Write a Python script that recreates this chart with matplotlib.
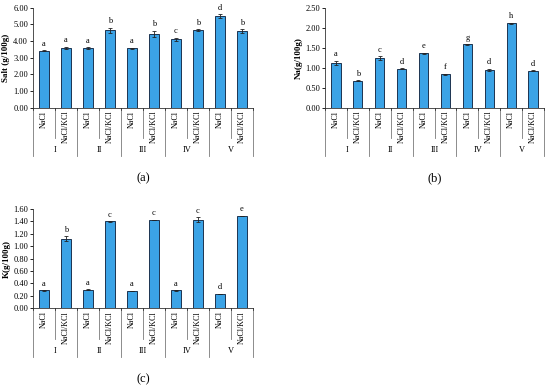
import numpy as np
from matplotlib import pyplot as plt

plt.rcParams['font.family'] = ['Liberation Serif', 'DejaVu Serif']

groups = ['I', 'II', 'III', 'IV', 'V']
treatments = ['NaCl', 'NaCl/KCl']

salt = [3.42, 3.60, 3.57, 4.65, 3.56, 4.43, 4.10, 4.66, 5.50, 4.60]
salt_err = [0.04, 0.05, 0.07, 0.15, 0.04, 0.20, 0.10, 0.05, 0.10, 0.10]
salt_letters = ['a', 'a', 'a', 'b', 'a', 'b', 'c', 'b', 'd', 'b']

na = [1.12, 0.67, 1.23, 0.97, 1.36, 0.84, 1.58, 0.95, 2.11, 0.92]
na_err = [0.05, 0.01, 0.05, 0.01, 0.01, 0.01, 0.01, 0.02, 0.01, 0.01]
na_letters = ['a', 'b', 'c', 'd', 'e', 'f', 'g', 'd', 'h', 'd']

k = [0.29, 1.12, 0.30, 1.40, 0.28, 1.42, 0.29, 1.43, 0.23, 1.49]
k_err = [0.005, 0.04, 0.005, 0.005, 0.005, 0.005, 0.005, 0.04, 0.005, 0.005]
k_letters = ['a', 'b', 'a', 'c', 'a', 'c', 'a', 'c', 'd', 'e']

W, H = 550, 389
fig = plt.figure(figsize=(5.5, 3.89), dpi=100)

bar_color = '#3ba3e6'
edge_color = '#1d3450'
line_color = '#7a7a7a'


def panel(px_left, px_right, px_zero, px_top, vals, errs, letters, ymax, step, ylabel, tag):
    ax = fig.add_axes([px_left / W, (H - px_zero) / H,
                       (px_right - px_left) / W, (px_zero - px_top) / H])
    x = np.arange(len(vals))
    ax.bar(x, vals, width=0.42, color=bar_color, edgecolor=edge_color, linewidth=0.7, zorder=2)
    ax.errorbar(x, vals, yerr=errs, fmt='none', ecolor='#222222', elinewidth=0.6,
                capsize=1.5, capthick=0.6, zorder=3)
    off = ymax * 0.025
    for xi, v, e, l in zip(x, vals, errs, letters):
        ax.text(xi, v + e + off, l, ha='center', va='bottom', fontsize=6)
    ax.set_xlim(-0.5, len(vals) - 0.5)
    ax.set_ylim(0, ymax)
    ticks = np.arange(0, ymax + step / 2, step)
    ax.set_yticks(ticks)
    ax.set_yticklabels(['%.2f' % t for t in ticks], fontsize=6)
    ax.tick_params(axis='y', length=2, width=0.6, pad=1.5)
    ax.set_xticks([])
    for s in ['top', 'right']:
        ax.spines[s].set_visible(False)
    for s in ['left', 'bottom']:
        ax.spines[s].set_linewidth(0.6)
        ax.spines[s].set_color('#333333')
    ax.set_ylabel(ylabel, fontsize=6.5, fontweight='bold', labelpad=2)

    h = px_zero - px_top
    y_cat = -(138 - 107.7) / h
    y_grp = -(156 - 107.7) / h
    y_glab = -(150.5 - 107.7) / h
    tr = ax.get_xaxis_transform()
    for i in range(len(vals) + 1):
        b = i - 0.5
        y_end = y_grp if i % 2 == 0 else y_cat
        ax.plot([b, b], [0, y_end], color=line_color, linewidth=0.6, transform=tr, clip_on=False)
        ax.plot([b, b], [0, -0.02], color='#333333', linewidth=0.6, transform=tr, clip_on=False)
    for xi in x:
        ax.text(xi, -0.03, treatments[xi % 2], rotation=90, ha='center', va='top',
                fontsize=5.8, transform=tr)
    for gi, g in enumerate(groups):
        ax.text(2 * gi + 0.5, y_glab, g, ha='center', va='center', fontsize=6, transform=tr)
    fig.text((px_left + px_right) / 2 / W, 1 - (px_zero + 70.5) / H, tag,
             ha='center', va='center', fontsize=9)
    return ax


panel(33, 253, 107.7, 7.7, salt, salt_err, salt_letters, 6.0, 1.0, 'Salt (g/100g)', '(a)')
panel(325, 544, 107.7, 7.7, na, na_err, na_letters, 2.5, 0.5, 'Na(g/100g)', '(b)')
panel(33, 253, 308.3, 209, k, k_err, k_letters, 1.6, 0.2, 'K(g/100g)', '(c)')

fig.savefig('out.png', dpi=100)
